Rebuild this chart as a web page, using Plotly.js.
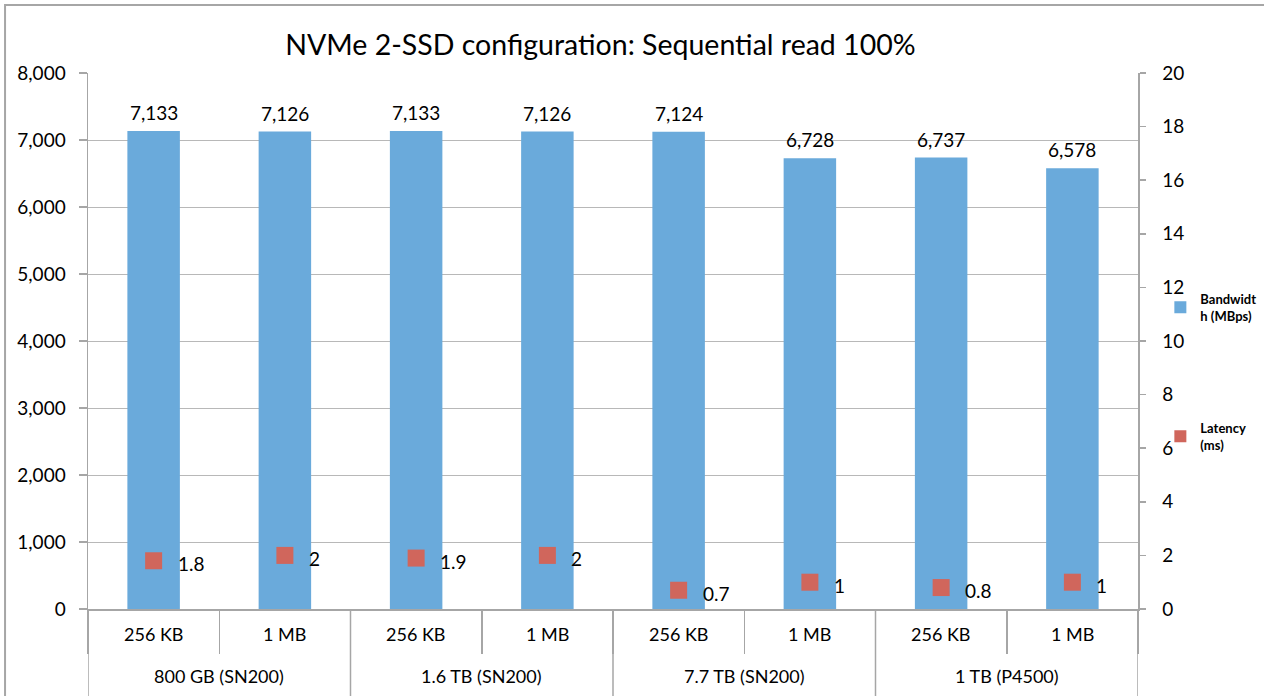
<!DOCTYPE html>
<html><head><meta charset="utf-8">
<script src="https://cdn.plot.ly/plotly-3.0.1.min.js"></script>
<style>html,body{margin:0;padding:0;background:#fff}#chart{width:1264px;height:696px}</style>
</head><body><div id="chart"></div>
<script>
const groups = ["800 GB (SN200)","800 GB (SN200)","1.6 TB (SN200)","1.6 TB (SN200)","7.7 TB (SN200)","7.7 TB (SN200)","1 TB (P4500)","1 TB (P4500)"];
const blockSizes = ["256 KB","1 MB","256 KB","1 MB","256 KB","1 MB","256 KB","1 MB"];
const bandwidth = [7133,7126,7133,7126,7124,6728,6737,6578];
const latency = [1.8,2,1.9,2,0.7,1,0.8,1];
const title = "NVMe 2-SSD configuration: Sequential read 100%";
const bwName = "Bandwidt<br>h (MBps)";
const latName = "Latency<br>(ms)";

const FONT = "Lato, 'Open Sans', sans-serif";
const GRID = "#b8b8b8";
const LINE = "#a6a6a6";
const idx = bandwidth.map((_, i) => i);

// boundaries between categories and between groups
const boundaries = [-0.5].concat(idx.map(i => i + 0.5));
const groupBounds = [-0.5];
const groupCenters = [];
let start = 0;
for (let i = 1; i <= groups.length; i++) {
  if (i === groups.length || groups[i] !== groups[i-1]) {
    groupBounds.push(i - 0.5);
    groupCenters.push({name: groups[i-1], x: (start + i - 1) / 2});
    start = i;
  }
}

const data = [
  {type:"bar", x:idx, y:bandwidth, name:bwName, legendgroup:"a",
   marker:{color:"#6aaadb"}, width:0.4, hoverinfo:"skip"},
  {type:"scatter", mode:"markers", x:idx, y:latency, yaxis:"y2", name:latName, legendgroup:"b",
   marker:{symbol:"square", size:17, color:"#d0665c"}, cliponaxis:false}
];

const annotations = [];
idx.forEach(i => {
  annotations.push({x:i, y:bandwidth[i], xref:"x", yref:"y", text:bandwidth[i].toLocaleString("en-US"),
    showarrow:false, yanchor:"bottom", xanchor:"center", yshift:5, font:{size:19}});
  annotations.push({x:i, y:latency[i], xref:"x", yref:"y2", text:String(latency[i]),
    showarrow:false, yanchor:"middle", xanchor:"left", xshift:22, yshift:-3, font:{size:19}});
  annotations.push({x:i, y:-0.0466, xref:"x", yref:"paper", text:blockSizes[i],
    showarrow:false, yanchor:"middle", xanchor:"center", font:{size:18}});
});
groupCenters.forEach(g => {
  annotations.push({x:g.x, y:-0.125, xref:"x", yref:"paper", text:g.name,
    showarrow:false, yanchor:"middle", xanchor:"center", font:{size:18}});
});

const shapes = groupBounds.map(b => ({type:"line", xref:"x", yref:"paper", x0:b, x1:b, y0:0, y1:-0.2,
  line:{color:LINE, width:1.5}}));
shapes.push({type:"rect", xref:"paper", yref:"paper", x0:-0.079, x1:1.2, y0:-0.3, y1:1.127,
  line:{color:LINE, width:2}, layer:"below"});

const layout = {
  width:1264, height:696,
  margin:{l:88, r:126, t:73, b:87},
  paper_bgcolor:"#fff", plot_bgcolor:"#fff",
  font:{family:FONT, size:19, color:"#000"},
  title:{text:title, font:{size:28.5, color:"#000"}, x:0.475, xanchor:"center", y:0.935, yanchor:"middle"},
  showlegend:true,
  legend:{xref:"container", yref:"container", x:0.918, y:0.592, xanchor:"left", yanchor:"top",
    font:{size:13, color:"#000", weight:"bold"},
    tracegroupgap:92, itemwidth:30, itemsizing:"constant", bgcolor:"rgba(0,0,0,0)"},
  xaxis:{type:"linear", range:[-0.5, 7.5], tickvals:boundaries, showticklabels:false,
    showline:true, linecolor:LINE, linewidth:1.5,
    ticks:"outside", ticklen:43, tickcolor:LINE, tickwidth:1.5,
    showgrid:false, zeroline:false, automargin:false, fixedrange:true},
  yaxis:{range:[0,8000], dtick:1000, tickformat:",", showline:true, linecolor:LINE, linewidth:1.5,
    ticks:"outside", ticklen:8, tickcolor:LINE, tickwidth:1.5,
    showgrid:true, gridcolor:GRID, gridwidth:1, zeroline:false, automargin:false, ticklabelstandoff:9,
    tickfont:{size:19}},
  yaxis2:{range:[0,20], dtick:2, overlaying:"y", side:"right", showline:true, linecolor:LINE, linewidth:1.5,
    ticks:"outside", ticklen:6, tickcolor:LINE, tickwidth:1.5,
    showgrid:false, zeroline:false, automargin:false, ticklabelstandoff:13, tickfont:{size:19}},
  annotations:annotations,
  shapes:shapes
};
Plotly.newPlot("chart", data, layout, {displayModeBar:false, staticPlot:true});
</script></body></html>
